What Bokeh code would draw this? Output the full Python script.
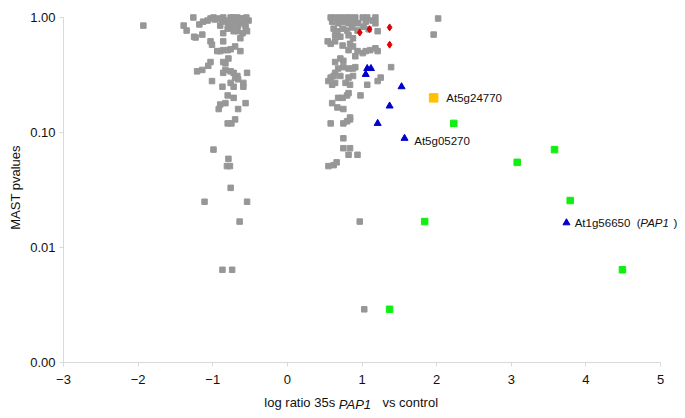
from bokeh.plotting import figure
from bokeh.models import (Range1d, FixedTicker, CustomJSTickFormatter, Label, LinearAxis)
from bokeh.embed import file_html
from bokeh.resources import INLINE

# ---- data ----
gray_x = [-1.93, -1.39, -1.35, -1.26, -1.23, -1.18, -1.14, -1.13, -1.07, -1.03, -0.99, -0.92, -0.87, -0.86,
          -0.79, -0.76, -0.74, -0.72, -0.70, -0.67, -0.66, -0.63, -0.60, -0.59, -0.56, -0.54, -0.52, -0.72,
          -0.67, -0.60, -0.63, -0.86, -1.25, -1.03, -1.01, -0.86, -0.70, -0.63, -0.94, -0.90, -0.86, -0.80,
          -0.76, -0.79, -1.03, -1.06, -0.86, -0.83, -0.83, -0.86, -0.76, -0.72, -0.67, -1.21, -1.14, -0.54,
          -0.70, -0.66, -1.01, -0.87, -0.76, -0.72, -0.59, -0.59, -0.80, -0.72, -0.83, -0.90, -0.92, -0.56,
          -0.66, -0.80, -0.75, -0.70, -0.99, -0.79, -0.81, -0.77, -0.76, -1.11, -0.54, -0.64, -0.87, -0.74,
          -0.97, -0.82, -0.68, -0.58, -0.90, -0.75, -0.64, -0.80, -0.55,
          0.58, 0.64, 0.71, 0.78, 0.84, 0.91, 1.01, 1.07, 1.18, 0.60, 0.68, 0.75, 0.82, 0.88, 0.95, 1.05,
          1.14, 1.18, 0.62, 0.67, 0.74, 0.80, 0.87, 0.94, 1.02, 1.09, 0.64, 0.71, 0.82, 0.88, 1.21, 0.54,
          0.58, 0.64, 0.74, 0.84, 0.82, 0.88, 0.94, 1.05, 1.11, 1.18, 1.21, 0.91, 1.01, 0.71, 0.64, 0.75,
          0.68, 0.75, 0.82, 0.88, 0.58, 0.62, 0.71, 0.82, 0.88, 0.55, 0.64, 0.78, 0.84, 0.60, 1.07, 1.21,
          1.25, 1.39, 0.98, 0.68, 0.74, 0.80, 0.82, 0.60, 0.67, 0.75, 0.84, 0.91, 0.64, 0.58, 0.75, 0.80,
          0.84, 0.75, 0.75, 0.84, 0.82, 0.94, 0.55, 0.62, 0.66, 2.02, 1.96, 0.97, 1.03]
gray_p = [0.85, 0.85, 0.77, 1.0, 0.67, 0.87, 0.71, 0.92, 0.94, 0.98, 1.0, 0.98, 0.92, 1.0,
          0.89, 1.0, 0.83, 1.0, 0.92, 1.0, 0.85, 0.98, 0.89, 0.98, 0.83, 0.76, 0.94, 0.76,
          0.76, 0.73, 0.66, 0.73, 0.68, 0.62, 0.58, 0.62, 0.56, 0.51, 0.51, 0.51, 0.52, 0.52,
          0.53, 0.44, 0.41, 0.38, 0.41, 0.40, 0.35, 0.33, 0.34, 0.33, 0.31, 0.34, 0.35, 0.33,
          0.30, 0.29, 0.28, 0.25, 0.27, 0.25, 0.27, 0.25, 0.21, 0.20, 0.18, 0.175, 0.16, 0.18,
          0.16, 0.12, 0.12, 0.13, 0.071, 0.059, 0.051, 0.051, 0.033, 0.025, 0.025, 0.0168, 0.0064, 0.0064,
          0.96, 0.94, 0.96, 0.90, 0.85, 0.94, 0.92, 0.80, 1.0,
          1.0, 1.0, 1.0, 1.0, 1.0, 1.0, 1.0, 1.0, 1.0, 0.92, 0.89, 0.92, 0.89, 0.92, 0.89, 0.92,
          0.94, 0.89, 0.80, 0.76, 0.80, 0.77, 0.82, 0.77, 0.83, 0.79, 0.70, 0.68, 0.70, 0.66, 0.76, 0.62,
          0.59, 0.62, 0.57, 0.59, 0.52, 0.56, 0.51, 0.51, 0.52, 0.54, 0.51, 0.46, 0.49, 0.44, 0.41, 0.42,
          0.36, 0.37, 0.36, 0.36, 0.30, 0.31, 0.31, 0.30, 0.31, 0.28, 0.27, 0.27, 0.26, 0.26, 0.26, 0.28,
          0.30, 0.37, 0.21, 0.20, 0.20, 0.21, 0.22, 0.18, 0.165, 0.16, 0.135, 0.37, 0.33, 0.12, 0.12, 0.125,
          0.13, 0.089, 0.073, 0.073, 0.064, 0.064, 0.051, 0.052, 0.055, 0.98, 0.71, 0.0168, 0.0029]

red_x = [0.97, 1.10, 1.37, 1.37]
red_p = [0.74, 0.79, 0.82, 0.58]

blue_x = [1.07, 1.12, 1.05, 1.53, 1.37, 1.21, 1.57, 3.74]
blue_p = [0.36, 0.36, 0.32, 0.25, 0.17, 0.12, 0.089, 0.0164]

green_x = [2.23, 3.58, 3.08, 3.79, 1.84, 4.49, 1.37]
green_p = [0.12, 0.071, 0.055, 0.0256, 0.0168, 0.0064, 0.0029]

yellow_x = [1.96]
yellow_p = [0.20]

x_ticks = [-3, -2, -1, 0, 1, 2, 3, 4, 5]
y_ticks = [0.001, 0.01, 0.1, 1.0]

# x-axis title pieces (text, centre position on the x scale)
xtitle_plain = ["log ratio 35s", "vs control"]
xtitle_plain_pos = [0.166, 1.646]
xtitle_italic = ["PAP1"]
xtitle_italic_pos = [0.905]

FONT = "Liberation Sans"
AXC = "#d9d9d9"
TXT = "#111111"
NB = "\u00a0"

p = figure(width=685, height=418, output_backend="svg", toolbar_location=None,
           y_axis_type="log", x_range=Range1d(-3, 5.335), y_range=Range1d(0.001, 1.105),
           min_border_left=63, min_border_right=0, min_border_top=12, min_border_bottom=56)
p.outline_line_color = None
p.grid.visible = False
p.background_fill_color = "white"

p.scatter(gray_x, gray_p, marker="square", size=5.5, color="#979797")
p.scatter(red_x, red_p, marker="diamond", size=7, color="#e00000")
p.scatter(blue_x, blue_p, marker="triangle", size=7, color="#0000cc")
p.scatter(green_x, green_p, marker="square", size=6.5, color="#11ee11")
p.scatter(yellow_x, yellow_p, marker="square", size=8.5, color="#ffc000")

# axes
p.xaxis.ticker = FixedTicker(ticks=x_ticks)
p.xaxis.bounds = (-3, 5)
p.yaxis.ticker = FixedTicker(ticks=y_ticks, minor_ticks=[])
p.yaxis.bounds = (0.001, 1.0)
p.yaxis.formatter = CustomJSTickFormatter(code="return tick.toFixed(2);")
for ax in (p.xaxis[0], p.yaxis[0]):
    ax.axis_line_color = AXC
    ax.major_tick_line_color = AXC
    ax.minor_tick_line_color = None
    ax.major_tick_in = 0
    ax.major_tick_out = 4
    ax.major_label_text_font = FONT
    ax.major_label_text_font_size = "13px"
    ax.major_label_text_color = TXT
p.xaxis.major_label_standoff = 8
p.yaxis.major_label_standoff = 4
p.yaxis.axis_label = "MAST pvalues"
p.yaxis.axis_label_text_font = FONT
p.yaxis.axis_label_text_font_size = "13px"
p.yaxis.axis_label_text_font_style = "normal"
p.yaxis.axis_label_standoff = 4
p.yaxis.axis_label_text_color = TXT

def title_axis(pos, txt, style, standoff):
    ax = LinearAxis(ticker=FixedTicker(ticks=pos, minor_ticks=[]),
                    formatter=CustomJSTickFormatter(args=dict(pos=pos, txt=txt), code="""
                        let best = 0;
                        for (let i = 0; i < pos.length; i++) {
                            if (Math.abs(pos[i] - tick) < Math.abs(pos[best] - tick)) best = i;
                        }
                        return txt[best];"""),
                    axis_line_color=None, major_tick_line_color=None, minor_tick_line_color=None,
                    major_tick_in=0, major_tick_out=0, major_label_standoff=standoff,
                    major_label_text_font=FONT, major_label_text_font_size="13px",
                    major_label_text_font_style=style, major_label_text_color=TXT)
    p.add_layout(ax, "below")

title_axis(xtitle_plain_pos, xtitle_plain, "normal", 8)
title_axis(xtitle_italic_pos, xtitle_italic, "italic", -16)

def lab(x, y, text, size="11.5px", style="normal"):
    p.add_layout(Label(x=x, y=y, text=text, text_font=FONT, text_font_size=size,
                       text_font_style=style, text_baseline="middle", text_align="left",
                       text_color=TXT))

# point annotations
lab(2.13, 0.20, "At5g24770")
lab(1.70, 0.085, "At5g05270")
lab(3.85, 0.0164, "At1g56650" + NB + NB + "(")
lab(4.73, 0.0164, "PAP1", style="italic")
lab(5.174, 0.0164, ")")

open("out.html", "w").write(file_html(p, INLINE))
